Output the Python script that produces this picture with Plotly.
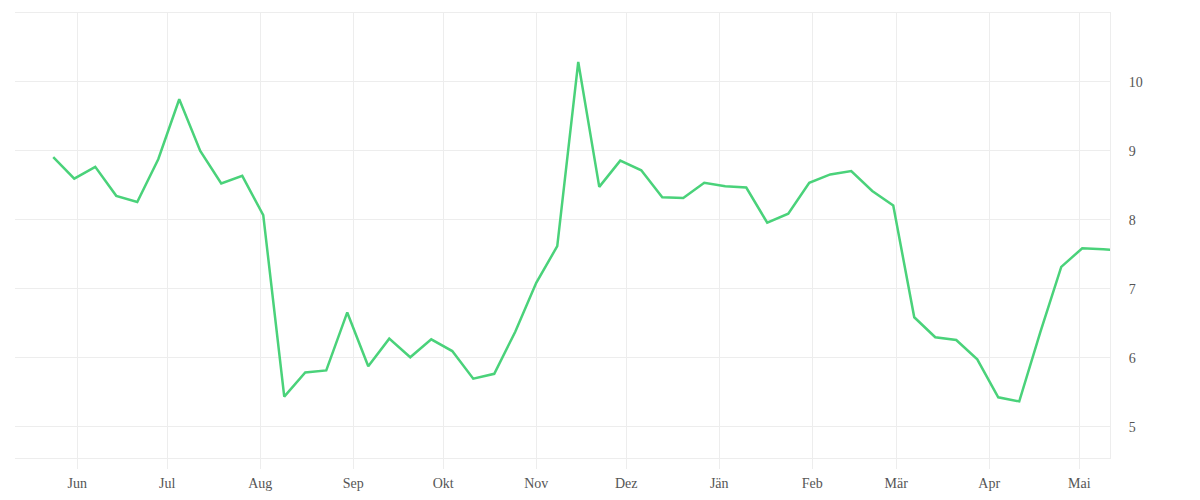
import plotly.graph_objects as go
import pandas as pd

# Weekly data points
start_date = "2022-05-24"
n_points = 52
values = [8.91, 8.60, 8.77, 8.35, 8.26, 8.88, 9.75, 9.00, 8.53, 8.64,
          8.07, 5.44, 5.79, 5.82, 6.66, 5.88, 6.28, 6.01, 6.27, 6.10,
          5.70, 5.77, 6.38, 7.09, 7.62, 10.29, 8.48, 8.86, 8.72, 8.33,
          8.32, 8.54, 8.49, 8.47, 7.96, 8.09, 8.54, 8.66, 8.71, 8.42,
          8.21, 6.59, 6.30, 6.26, 5.98, 5.43, 5.37, 6.37, 7.32, 7.59,
          7.575, 7.56]
dates = pd.date_range(start_date, periods=n_points, freq="7D")

month_ticks = ["2022-06-01", "2022-07-01", "2022-08-01", "2022-09-01", "2022-10-01",
               "2022-11-01", "2022-12-01", "2023-01-01", "2023-02-01", "2023-03-01",
               "2023-04-01", "2023-05-01"]
month_labels = ["Jun", "Jul", "Aug", "Sep", "Okt", "Nov", "Dez", "Jän", "Feb", "Mär", "Apr", "Mai"]
y_ticks = [5, 6, 7, 8, 9, 10]

grid = "#ededed"

fig = go.Figure()
fig.add_trace(go.Scatter(
    x=dates, y=values, mode="lines",
    line=dict(color="#4ad27a", width=2.5),
    hoverinfo="x+y", showlegend=False,
))

fig.update_layout(
    width=1192, height=492,
    margin=dict(l=7, r=90, t=5, b=42),
    paper_bgcolor="white", plot_bgcolor="white",
    font=dict(family="Liberation Serif, DejaVu Serif, serif", size=14, color="#555"),
)
fig.update_xaxes(
    range=["2022-05-11 06:00", "2023-05-11 06:00"],
    tickvals=month_ticks, ticktext=month_labels,
    showgrid=True, gridcolor=grid, gridwidth=1,
    showline=True, linecolor=grid, linewidth=1, mirror=True,
    ticks="outside", ticklen=10, tickcolor=grid, tickwidth=1,
    ticklabelstandoff=2,
    zeroline=False,
)
fig.update_yaxes(
    range=[4.55, 11.0], side="right",
    tickvals=y_ticks,
    showgrid=True, gridcolor=grid, gridwidth=1,
    showline=True, linecolor=grid, linewidth=1,
    ticks="", ticklabelstandoff=15,
    zeroline=False,
)

fig.write_html("out.html")
